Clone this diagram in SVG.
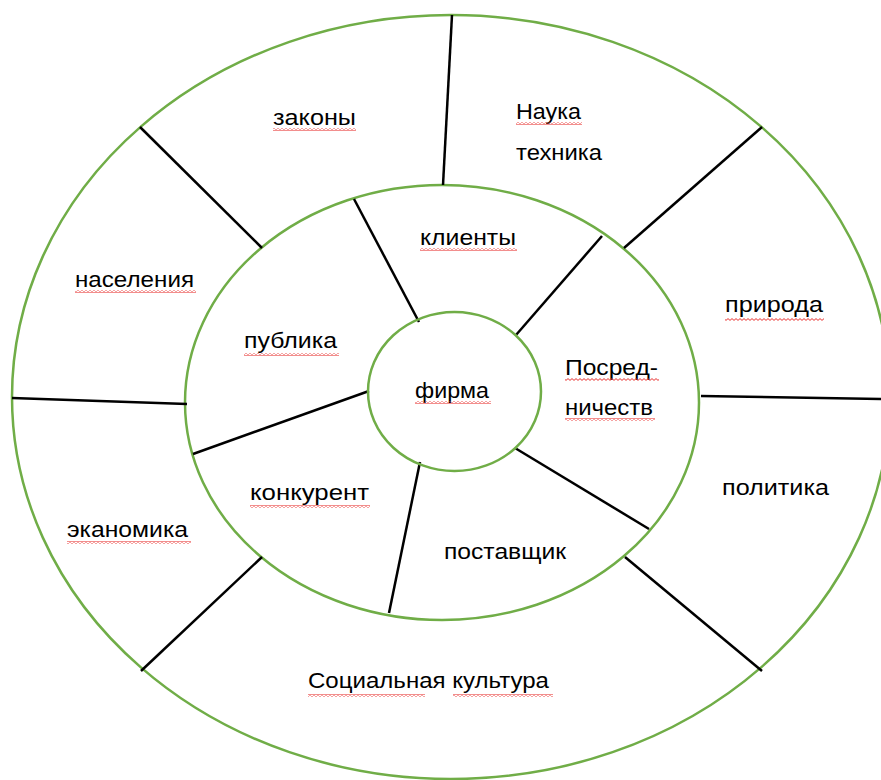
<svg xmlns="http://www.w3.org/2000/svg" width="881" height="780" viewBox="0 0 881 780">
<style>
.ring{fill:none;stroke:#70ad47;stroke-width:2.5}
.conn line{stroke:#000;stroke-width:2.5;stroke-linecap:butt}
text{font-family:"Liberation Sans",Arial,sans-serif;font-size:22.5px;fill:#000}
.wavy{fill:url(#wave)}
</style>
<defs>
<pattern id="wave" patternUnits="userSpaceOnUse" width="4" height="3">
<path d="M0,0.6 L2,2.4 L4,0.6" fill="none" stroke="#e8312f" stroke-width="1"/>
</pattern>
</defs>
<rect width="881" height="780" fill="#fff"/>
<g id="rings">
<ellipse class="ring" cx="451" cy="397" rx="439" ry="382"/>
<ellipse class="ring" cx="442" cy="402.5" rx="257" ry="217.5"/>
</g>
<g class="conn" id="connectors">
<line x1="452" y1="15" x2="443" y2="185"/>
<line x1="140" y1="127" x2="262" y2="248"/>
<line x1="762" y1="127" x2="624" y2="248"/>
<line x1="12" y1="398" x2="187" y2="404"/>
<line x1="701" y1="396" x2="881" y2="399"/>
<line x1="262" y1="557" x2="141" y2="671"/>
<line x1="625" y1="557" x2="762" y2="671"/>
<line x1="354" y1="199" x2="419" y2="322"/>
<line x1="602" y1="236" x2="516" y2="335"/>
<line x1="369" y1="391" x2="193" y2="454"/>
<line x1="420" y1="462" x2="389" y2="613"/>
<line x1="515" y1="448" x2="649" y2="529"/>
</g>
<g id="firma">
<ellipse class="ring" cx="454.5" cy="391.5" rx="86.5" ry="79.5" fill="#fff"/>
<text x="415" y="398" textLength="74" lengthAdjust="spacingAndGlyphs">фирма</text>
<rect class="wavy" x="415" y="401" width="76" height="3"/>
</g>
<g id="zakony">
<text x="273" y="125" textLength="83" lengthAdjust="spacingAndGlyphs">законы</text>
<rect class="wavy" x="273" y="128" width="83" height="3"/>
</g>
<g id="nauka-tehnika">
<text x="516" y="119" textLength="65" lengthAdjust="spacingAndGlyphs">Наука</text>
<rect class="wavy" x="516" y="122" width="66" height="3"/>
<text x="516" y="160" textLength="86" lengthAdjust="spacingAndGlyphs">техника</text>
</g>
<g id="klienty">
<text x="420" y="245" textLength="96" lengthAdjust="spacingAndGlyphs">клиенты</text>
<rect class="wavy" x="420" y="248" width="97" height="3"/>
</g>
<g id="naselenia">
<text x="75" y="287" textLength="119" lengthAdjust="spacingAndGlyphs">населения</text>
<rect class="wavy" x="75" y="290" width="121" height="3"/>
</g>
<g id="publika">
<text x="244" y="348" textLength="93" lengthAdjust="spacingAndGlyphs">публика</text>
<rect class="wavy" x="244" y="353" width="95" height="3"/>
</g>
<g id="posrednichestv">
<text x="565" y="375" textLength="93" lengthAdjust="spacingAndGlyphs">Посред-</text>
<rect class="wavy" x="565" y="378" width="94" height="3"/>
<text x="565" y="415" textLength="88" lengthAdjust="spacingAndGlyphs">ничеств</text>
<rect class="wavy" x="565" y="418" width="90" height="3"/>
</g>
<g id="priroda">
<text x="725" y="312" textLength="98" lengthAdjust="spacingAndGlyphs">природа</text>
<rect class="wavy" x="725" y="318" width="99" height="3"/>
</g>
<g id="politika">
<text x="722" y="495" textLength="107" lengthAdjust="spacingAndGlyphs">политика</text>
</g>
<g id="konkurent">
<text x="250" y="500" textLength="119" lengthAdjust="spacingAndGlyphs">конкурент</text>
<rect class="wavy" x="250" y="505" width="120" height="3"/>
</g>
<g id="ekonomika">
<text x="67" y="537" textLength="121" lengthAdjust="spacingAndGlyphs">эканомика</text>
<rect class="wavy" x="67" y="541" width="124" height="3"/>
</g>
<g id="postavshchik">
<text x="444" y="559" textLength="122" lengthAdjust="spacingAndGlyphs">поставщик</text>
</g>
<g id="socialnaya-kultura">
<text x="308" y="688" textLength="241" lengthAdjust="spacingAndGlyphs">Социальная культура</text>
<rect class="wavy" x="308" y="694" width="117" height="3"/>
<rect class="wavy" x="453" y="694" width="100" height="3"/>
</g>
</svg>
